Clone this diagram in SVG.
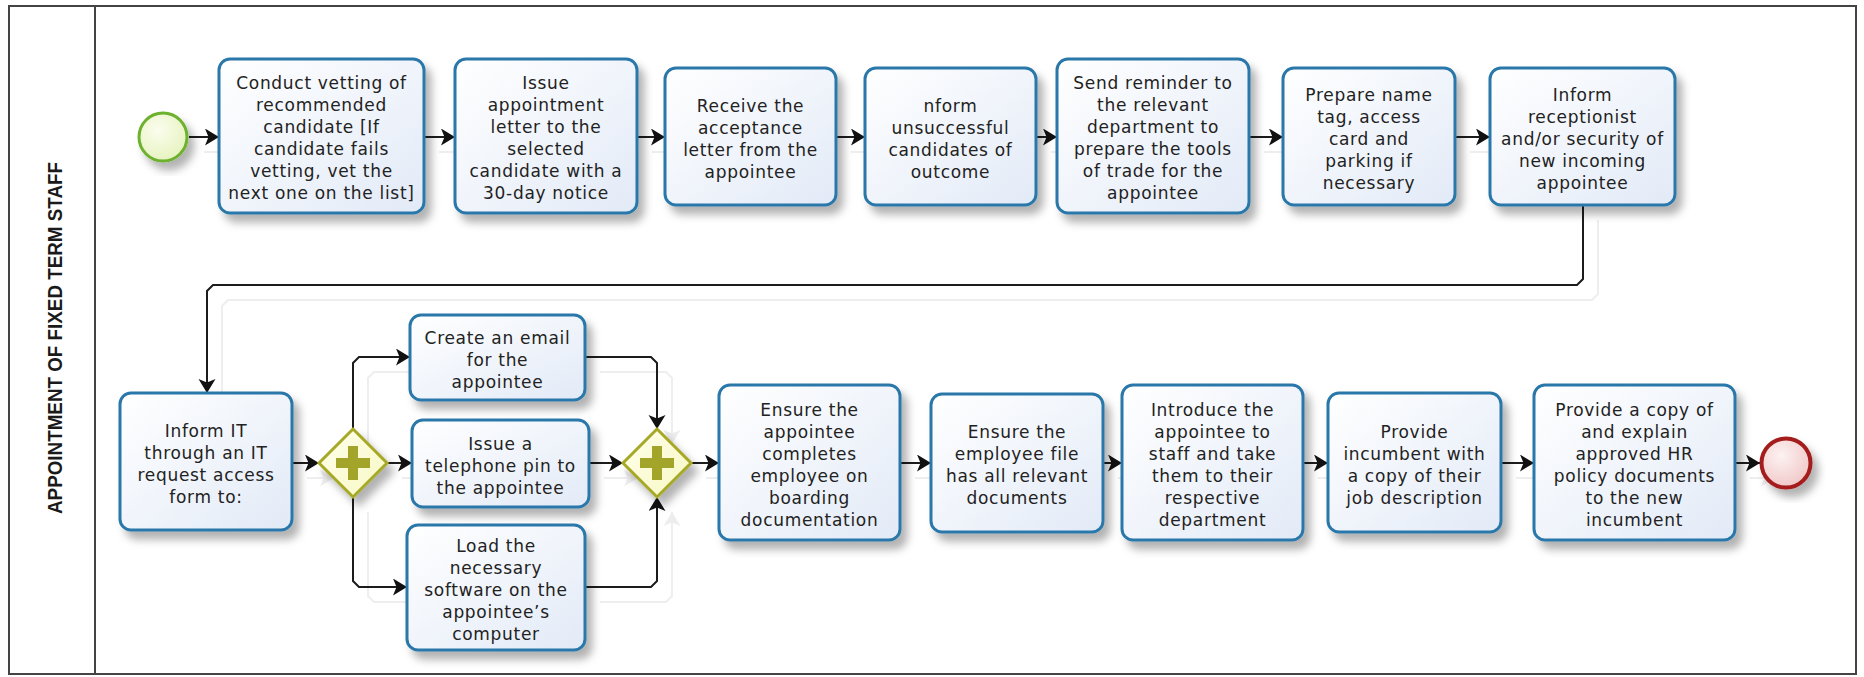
<svg xmlns="http://www.w3.org/2000/svg" xmlns:xlink="http://www.w3.org/1999/xlink" width="1864" height="677" viewBox="0 0 1864 677">
  <style>
    .lane { fill: none; stroke: #444; stroke-width: 2; }
    .title { font-family: "Liberation Sans", Arial, sans-serif; font-weight: bold; font-size: 20px; fill: #1a1a1a; }
    .task rect { fill: url(#taskFill); stroke: #2a77aa; stroke-width: 3; filter: url(#shadow); }
    .task text { font-family: "DejaVu Sans", "Liberation Sans", sans-serif; font-size: 17px; letter-spacing: 0.7px; fill: #222; text-anchor: middle; }
    .gw polygon { fill: url(#gwFill); stroke: #a6a825; stroke-width: 3; filter: url(#shadow); }
    .gw path { fill: #a3a52a; }
    .flow { fill: none; stroke: #1c1c1c; stroke-width: 2; marker-end: url(#arrow); }
  </style>
  <defs>
    <linearGradient id="taskFill" x1="0" y1="0" x2="1" y2="1">
      <stop offset="0" stop-color="#ffffff"/>
      <stop offset="1" stop-color="#e2eaf7"/>
    </linearGradient>
    <linearGradient id="gwFill" x1="0" y1="0" x2="1" y2="1">
      <stop offset="0" stop-color="#ffffec"/>
      <stop offset="1" stop-color="#f8f8c4"/>
    </linearGradient>
    <radialGradient id="startFill" cx="0.4" cy="0.35" r="0.7">
      <stop offset="0" stop-color="#fbfdee"/>
      <stop offset="1" stop-color="#e5f2bd"/>
    </radialGradient>
    <radialGradient id="endFill" cx="0.4" cy="0.35" r="0.7">
      <stop offset="0" stop-color="#fdf2f2"/>
      <stop offset="1" stop-color="#f0c6c6"/>
    </radialGradient>
    <filter id="shadow" x="-20%" y="-20%" width="150%" height="150%">
      <feDropShadow dx="6" dy="8" stdDeviation="4" flood-color="#000" flood-opacity="0.3"/>
    </filter>
    <marker id="arrow" markerUnits="userSpaceOnUse" markerWidth="16" markerHeight="18" refX="14" refY="8.5" orient="auto">
      <path d="M0,0 L14,8.5 L0,17 L3.5,8.5 z" fill="#111"/>
    </marker>
  </defs>

  <rect width="1864" height="677" fill="#fff"/>

  <!-- pool / lane frame -->
  <g id="lane">
    <rect class="lane" x="9" y="6" width="1847" height="668"/>
    <line class="lane" x1="95" y1="6" x2="95" y2="674"/>
    <text class="title" transform="translate(62,338) rotate(-90)" text-anchor="middle" textLength="352" lengthAdjust="spacingAndGlyphs">APPOINTMENT OF FIXED TERM STAFF</text>
  </g>

  <!-- faint shadows cast by the sequence flows -->
  <g id="flow-shadows" opacity="0.07" transform="translate(15,15)">
    <use xlink:href="#connectors"/>
  </g>

  <!-- sequence flows -->
  <g id="connectors">
    <path class="flow" d="M189,137 H219"/>
    <path class="flow" d="M424,137 H455"/>
    <path class="flow" d="M637,137 H665"/>
    <path class="flow" d="M836,137 H865"/>
    <path class="flow" d="M1036,137 H1057"/>
    <path class="flow" d="M1249,137 H1283"/>
    <path class="flow" d="M1455,137 H1490"/>
    <path class="flow" d="M1583,205 V279 L1577,285 H213 L207,291 V393"/>
    <path class="flow" d="M292,463 H319"/>
    <path class="flow" d="M353,429 V363 L359,357 H410"/>
    <path class="flow" d="M387,463 H412"/>
    <path class="flow" d="M353,497 V581 L359,587 H407"/>
    <path class="flow" d="M585,357 H651 L657,363 V429"/>
    <path class="flow" d="M589,463 H623"/>
    <path class="flow" d="M585,587 H651 L657,581 V497"/>
    <path class="flow" d="M691,463 H719"/>
    <path class="flow" d="M900,463 H931"/>
    <path class="flow" d="M1103,463 H1122"/>
    <path class="flow" d="M1303,463 H1328"/>
    <path class="flow" d="M1501,463 H1534"/>
    <path class="flow" d="M1735,463 H1760"/>
  </g>

  <!-- start event -->
  <g id="start">
    <circle cx="163" cy="137" r="24" fill="url(#startFill)" stroke="#6db12e" stroke-width="3" filter="url(#shadow)"/>
  </g>

  <!-- top row tasks -->
  <g id="t-vetting" class="task">
    <rect x="219" y="59" width="205" height="154" rx="11"/>
    <text x="321.5" y="89"><tspan x="321.5">Conduct vetting of</tspan><tspan x="321.5" dy="22">recommended</tspan><tspan x="321.5" dy="22">candidate [If</tspan><tspan x="321.5" dy="22">candidate fails</tspan><tspan x="321.5" dy="22">vetting, vet the</tspan><tspan x="321.5" dy="22">next one on the list]</tspan></text>
  </g>
  <g id="t-letter" class="task">
    <rect x="455" y="59" width="182" height="154" rx="11"/>
    <text x="546" y="89"><tspan x="546">Issue</tspan><tspan x="546" dy="22">appointment</tspan><tspan x="546" dy="22">letter to the</tspan><tspan x="546" dy="22">selected</tspan><tspan x="546" dy="22">candidate with a</tspan><tspan x="546" dy="22">30-day notice</tspan></text>
  </g>
  <g id="t-accept" class="task">
    <rect x="665" y="68" width="171" height="137" rx="11"/>
    <text x="750.5" y="111.5"><tspan x="750.5">Receive the</tspan><tspan x="750.5" dy="22">acceptance</tspan><tspan x="750.5" dy="22">letter from the</tspan><tspan x="750.5" dy="22">appointee</tspan></text>
  </g>
  <g id="t-unsuccessful" class="task">
    <rect x="865" y="68" width="171" height="137" rx="11"/>
    <text x="950.5" y="111.5"><tspan x="950.5">nform</tspan><tspan x="950.5" dy="22">unsuccessful</tspan><tspan x="950.5" dy="22">candidates of</tspan><tspan x="950.5" dy="22">outcome</tspan></text>
  </g>
  <g id="t-reminder" class="task">
    <rect x="1057" y="59" width="192" height="154" rx="11"/>
    <text x="1153" y="89"><tspan x="1153">Send reminder to</tspan><tspan x="1153" dy="22">the relevant</tspan><tspan x="1153" dy="22">department to</tspan><tspan x="1153" dy="22">prepare the tools</tspan><tspan x="1153" dy="22">of trade for the</tspan><tspan x="1153" dy="22">appointee</tspan></text>
  </g>
  <g id="t-nametag" class="task">
    <rect x="1283" y="68" width="172" height="137" rx="11"/>
    <text x="1369" y="100.5"><tspan x="1369">Prepare name</tspan><tspan x="1369" dy="22">tag, access</tspan><tspan x="1369" dy="22">card and</tspan><tspan x="1369" dy="22">parking if</tspan><tspan x="1369" dy="22">necessary</tspan></text>
  </g>
  <g id="t-reception" class="task">
    <rect x="1490" y="68" width="185" height="137" rx="11"/>
    <text x="1582.5" y="100.5"><tspan x="1582.5">Inform</tspan><tspan x="1582.5" dy="22">receptionist</tspan><tspan x="1582.5" dy="22">and/or security of</tspan><tspan x="1582.5" dy="22">new incoming</tspan><tspan x="1582.5" dy="22">appointee</tspan></text>
  </g>

  <!-- bottom row -->
  <g id="t-inform-it" class="task">
    <rect x="120" y="393" width="172" height="137" rx="11"/>
    <text x="206" y="436.5"><tspan x="206">Inform IT</tspan><tspan x="206" dy="22">through an IT</tspan><tspan x="206" dy="22">request access</tspan><tspan x="206" dy="22">form to:</tspan></text>
  </g>
  <g id="gw-split" class="gw">
    <polygon points="353,429 387,463 353,497 319,463"/>
    <path d="M348,446 h10 v12 h12 v10 h-12 v12 h-10 v-12 h-12 v-10 h12 z"/>
  </g>
  <g id="t-email" class="task">
    <rect x="410" y="315" width="175" height="85" rx="11"/>
    <text x="497.5" y="343.5"><tspan x="497.5">Create an email</tspan><tspan x="497.5" dy="22">for the</tspan><tspan x="497.5" dy="22">appointee</tspan></text>
  </g>
  <g id="t-phone" class="task">
    <rect x="412" y="420" width="177" height="87" rx="11"/>
    <text x="500.5" y="449.5"><tspan x="500.5">Issue a</tspan><tspan x="500.5" dy="22">telephone pin to</tspan><tspan x="500.5" dy="22">the appointee</tspan></text>
  </g>
  <g id="t-software" class="task">
    <rect x="407" y="525" width="178" height="125" rx="11"/>
    <text x="496" y="551.5"><tspan x="496">Load the</tspan><tspan x="496" dy="22">necessary</tspan><tspan x="496" dy="22">software on the</tspan><tspan x="496" dy="22">appointee’s</tspan><tspan x="496" dy="22">computer</tspan></text>
  </g>
  <g id="gw-join" class="gw">
    <polygon points="657,429 691,463 657,497 623,463"/>
    <path d="M652,446 h10 v12 h12 v10 h-12 v12 h-10 v-12 h-12 v-10 h12 z"/>
  </g>
  <g id="t-onboarding" class="task">
    <rect x="719" y="385" width="181" height="155" rx="11"/>
    <text x="809.5" y="415.5"><tspan x="809.5">Ensure the</tspan><tspan x="809.5" dy="22">appointee</tspan><tspan x="809.5" dy="22">completes</tspan><tspan x="809.5" dy="22">employee on</tspan><tspan x="809.5" dy="22">boarding</tspan><tspan x="809.5" dy="22">documentation</tspan></text>
  </g>
  <g id="t-file" class="task">
    <rect x="931" y="394" width="172" height="138" rx="11"/>
    <text x="1017" y="438"><tspan x="1017">Ensure the</tspan><tspan x="1017" dy="22">employee file</tspan><tspan x="1017" dy="22">has all relevant</tspan><tspan x="1017" dy="22">documents</tspan></text>
  </g>
  <g id="t-introduce" class="task">
    <rect x="1122" y="385" width="181" height="155" rx="11"/>
    <text x="1212.5" y="415.5"><tspan x="1212.5">Introduce the</tspan><tspan x="1212.5" dy="22">appointee to</tspan><tspan x="1212.5" dy="22">staff and take</tspan><tspan x="1212.5" dy="22">them to their</tspan><tspan x="1212.5" dy="22">respective</tspan><tspan x="1212.5" dy="22">department</tspan></text>
  </g>
  <g id="t-jobdesc" class="task">
    <rect x="1328" y="393" width="173" height="139" rx="11"/>
    <text x="1414.5" y="437.5"><tspan x="1414.5">Provide</tspan><tspan x="1414.5" dy="22">incumbent with</tspan><tspan x="1414.5" dy="22">a copy of their</tspan><tspan x="1414.5" dy="22">job description</tspan></text>
  </g>
  <g id="t-policy" class="task">
    <rect x="1534" y="385" width="201" height="155" rx="11"/>
    <text x="1634.5" y="415.5"><tspan x="1634.5">Provide a copy of</tspan><tspan x="1634.5" dy="22">and explain</tspan><tspan x="1634.5" dy="22">approved HR</tspan><tspan x="1634.5" dy="22">policy documents</tspan><tspan x="1634.5" dy="22">to the new</tspan><tspan x="1634.5" dy="22">incumbent</tspan></text>
  </g>

  <!-- end event -->
  <g id="end">
    <circle cx="1786" cy="463" r="24.5" fill="url(#endFill)" stroke="#a51d1d" stroke-width="4" filter="url(#shadow)"/>
  </g>
</svg>
